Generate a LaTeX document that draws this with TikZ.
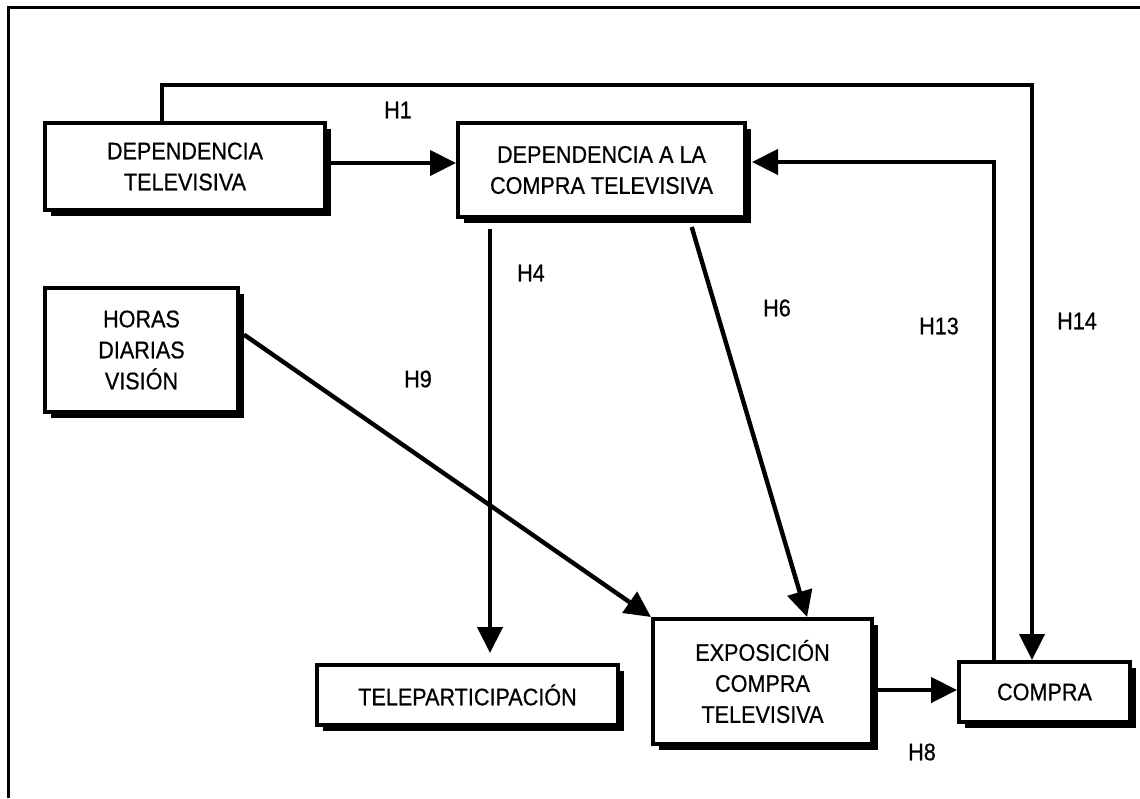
\documentclass[tikz,border=0pt]{standalone}
\usepackage{fontspec}
\setmainfont{Liberation Sans}
\newfontfamily\narrowsans[FakeStretch=0.9,FakeBold=0.6]{Liberation Sans}
\usetikzlibrary{arrows.meta,shadows,calc}
\begin{document}
\begin{tikzpicture}[x=0.5pt,y=-0.5pt,
  box/.style={draw, line width=2pt, fill=white, inner sep=0pt, align=center,
    font=\narrowsans\fontsize{12}{15.5}\selectfont,
    drop shadow={shadow xshift=3pt, shadow yshift=-3pt, fill=black, opacity=1}},
  link/.style={line width=2.2pt, -{Triangle[length=13pt,width=12.5pt]}},
  hyp/.style={font=\narrowsans\fontsize{12}{13}\selectfont, inner sep=0pt}]
\useasboundingbox (0,0) rectangle (1140,798);
% outer frame (top and left edges)
\draw[line width=1.5pt] (1140,7) -- (8,7) -- (8,798);

% boxes
\node[box, minimum width=140pt, minimum height=43.5pt] (DT) at (185,166.5) {DEPENDENCIA\\TELEVISIVA};
\node[box, minimum width=143.5pt, minimum height=47pt] (DCT) at (601.5,170) {DEPENDENCIA A LA\\COMPRA TELEVISIVA};
\node[box, minimum width=96.5pt, minimum height=62pt] (HDV) at (141.5,350) {HORAS\\DIARIAS\\VISIÓN};
\node[box, minimum width=150.5pt, minimum height=30pt] (TELE) at (467.5,695) {TELEPARTICIPACIÓN};
\node[box, minimum width=109.5pt, minimum height=62.5pt] (EXP) at (762.5,681.5) {EXPOSICIÓN\\COMPRA\\TELEVISIVA};
\node[box, minimum width=85.5pt, minimum height=30pt] (COM) at (1044.5,692) {COMPRA};

% routing points
\coordinate (h1a) at (162,85);
\coordinate (h1b) at (1032,85);
\coordinate (h13) at (994,162);
\coordinate (dtrow) at (0,163);
\coordinate (h4x) at (490,0);
\coordinate (h8row) at (0,690);

% connectors
\draw[link] (h1a |- DT.north) -- (h1a) -- (h1b) -- (h1b |- COM.north);
\draw[link] (h13 |- COM.north) -- (h13) -- ([xshift=2.5pt]DCT.east |- h13);
\draw[link] (DT.east |- dtrow) -- (DCT.west |- dtrow);
\draw[link] ([yshift=-5pt]DCT.south -| h4x) -- ([yshift=5pt]TELE.north -| h4x);
\draw[link] ($(DCT.south west)!0.81!(DCT.south east)+(0,8)$) -- ($(EXP.north west)!0.70!(EXP.north east)$);
\draw[link] ($(HDV.north east)!0.38!(HDV.south east)+(4,0)$) -- (EXP.north west);
\draw[link] (EXP.east |- h8row) -- (COM.west |- h8row);

% hypothesis labels
\node[hyp] (l1) at (398,110) {H1};
\node[hyp] (l4) at (531,273) {H4};
\node[hyp] (l6) at (777,308) {H6};
\node[hyp] (l9) at (418,379) {H9};
\node[hyp] (l13) at (939,326) {H13};
\node[hyp] (l14) at (1077,321) {H14};
\node[hyp] (l8) at (922,752) {H8};
\end{tikzpicture}
\end{document}
